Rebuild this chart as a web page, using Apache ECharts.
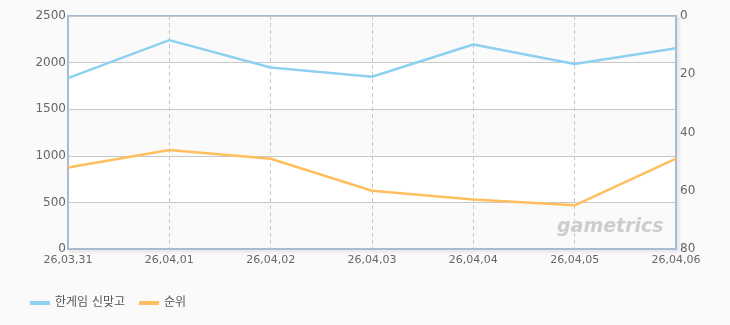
<!DOCTYPE html>
<html><head><meta charset="utf-8">
<script src="https://cdn.jsdelivr.net/npm/echarts@6/dist/echarts.min.js"></script>
<style>html,body{margin:0;padding:0;background:#fafafa;}#c{width:730px;height:325px;}</style>
</head><body><div id="c"></div>
<script>
const categories = ['26,03,31','26,04,01','26,04,02','26,04,03','26,04,04','26,04,05','26,04,06'];
const usersName = '한게임 신맞고';
const usersValues = [1834, 2241, 1948, 1848, 2194, 1984, 2155];
const rankName = '순위';
const rankValues = [52, 46, 49, 60, 63, 65, 49];
const leftTicks = [0, 500, 1000, 1500, 2000, 2500];
const rightTicks = [0, 20, 40, 60, 80];

const axisColor = '#a9bbd0';
const font = 'DejaVu Sans, "Noto Sans CJK KR", sans-serif';
const chart = echarts.init(document.getElementById('c'));
chart.setOption({
  backgroundColor: '#fafafa',
  animation: false,
  textStyle: {fontFamily: font},
  grid: {left: 68, right: 54, top: 16, bottom: 76, show: true, borderColor: axisColor, borderWidth: 2,
    backgroundColor: 'transparent', shadowColor: 'rgba(0,0,0,0.12)', shadowBlur: 3, shadowOffsetX: 2, shadowOffsetY: 2},
  legend: {left: 30, top: 297, padding: 0, icon: 'rect', itemWidth: 20, itemHeight: 4, itemGap: 14,
    textStyle: {color: '#555', fontSize: 12, fontFamily: font},
    data: [usersName, rankName]},
  xAxis: {type: 'category', data: categories, boundaryGap: false,
    axisLine: {lineStyle: {color: axisColor, width: 2}}, axisTick: {show: false},
    axisLabel: {color: '#666', fontSize: 11, margin: 6, interval: 0},
    splitLine: {show: true, lineStyle: {color: '#c8c8c8', type: [4, 3], width: 1}}},
  yAxis: [
    {type: 'value', min: leftTicks[0], max: leftTicks[leftTicks.length-1], interval: 500,
     axisLine: {show: true, lineStyle: {color: axisColor, width: 2}}, axisTick: {show: false},
     axisLabel: {color: '#666', fontSize: 12, margin: 2, formatter: v => String(v)},
     splitLine: {lineStyle: {color: '#c8c8c8', width: 1}},
     splitArea: {show: true, areaStyle: {color: ['#fafafa', '#ffffff']}}},
    {type: 'value', inverse: true, min: rightTicks[0], max: rightTicks[rightTicks.length-1], interval: 20,
     axisLine: {show: true, lineStyle: {color: axisColor, width: 2}}, axisTick: {show: false},
     axisLabel: {color: '#666', fontSize: 12, margin: 4, formatter: v => String(v)},
     splitLine: {show: false}}
  ],
  graphic: [{type: 'text', left: 557, top: 218, z: 1,
    style: {text: 'gametrics', fill: '#cdcdcd', font: 'italic bold 19px "DejaVu Sans", sans-serif'}}],
  series: [
    {name: usersName, type: 'line', data: usersValues, yAxisIndex: 0, showSymbol: false, symbol: 'none',
     lineStyle: {color: '#8ed0f0', width: 2.5}, itemStyle: {color: '#8ed0f0'}, z: 3},
    {name: rankName, type: 'line', data: rankValues, yAxisIndex: 1, showSymbol: false, symbol: 'none',
     lineStyle: {color: '#ffbf5e', width: 2.5}, itemStyle: {color: '#ffbf5e'}, z: 3}
  ]
});
</script></body></html>
